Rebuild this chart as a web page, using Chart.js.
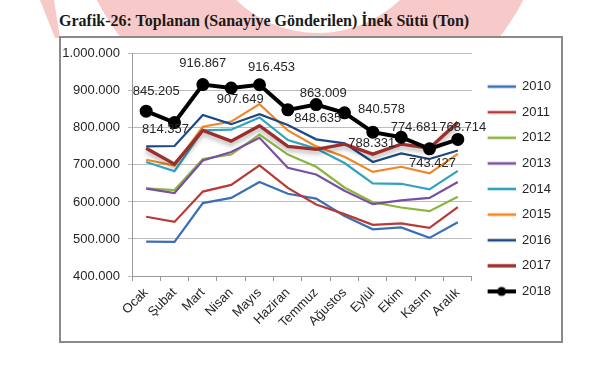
<!DOCTYPE html>
<html>
<head>
<meta charset="utf-8">
<script src="https://cdn.jsdelivr.net/npm/chart.js@4.4.1/dist/chart.umd.min.js"></script>
<style>
  body { margin: 0; width: 600px; height: 374px; background: #fff; position: relative; overflow: hidden; }
  .wm-ring { position: absolute; left: 70px; top: -350px; width: 480px; height: 480px; border-radius: 50%; background: #f7c9c9; }
  .wm-hole { position: absolute; left: 200px; top: -203px; width: 236px; height: 236px; border-radius: 50%; background: #fff; }
  .wm-left { position: absolute; left: 38px; top: 0; width: 24px; height: 38px; background: #f7c9c9;
             clip-path: polygon(2px 0, 16px 0, 22px 38px, 17px 38px); }
  #title { position: absolute; left: 59px; top: 12px; line-height: 18px; white-space: nowrap;
           font: bold 16px "Liberation Serif", "Times New Roman", serif; color: #1a1a1a; }
  #box { position: absolute; left: 59px; top: 36px; width: 504px; height: 307px; box-sizing: border-box;
         border: 2px solid #8a8a8a; background: #fff; }
  #box canvas { display: block; }
</style>
</head>
<body>
<div class="wm-ring"></div>
<div class="wm-hole"></div>
<div class="wm-left"></div>
<div id="title">Grafik-26: Toplanan (Sanayiye Gönderilen) İnek Sütü (Ton)</div>
<div id="box"><canvas id="chart" width="500" height="303"></canvas></div>

<script>
// ---------- data (ton) ----------
const months = ["Ocak", "Şubat", "Mart", "Nisan", "Mayıs", "Haziran", "Temmuz", "Ağustos", "Eylül", "Ekim", "Kasım", "Aralık"];
const years = ["2010", "2011", "2012", "2013", "2014", "2015", "2016", "2017", "2018"];

const s2010 = [493000, 492000, 597000, 611000, 654000, 622000, 609000, 562000, 526000, 531000, 503000, 545000];
const s2011 = [560000, 546000, 628000, 646000, 699000, 638000, 593000, 567000, 538000, 542000, 530000, 586000];
const s2012 = [637000, 632000, 716000, 728000, 782000, 728000, 695000, 639000, 599000, 585000, 575000, 614000];
const s2013 = [636000, 624000, 712000, 735000, 773000, 692000, 674000, 630000, 594000, 604000, 611000, 654000];
const s2014 = [708000, 683000, 793000, 795000, 828000, 767000, 744000, 705000, 650000, 649000, 634000, 684000];
const s2015 = [714000, 698000, 803000, 817000, 864000, 793000, 750000, 722000, 681000, 695000, 677000, 730000];
const s2016 = [750000, 751000, 835000, 810000, 837000, 808000, 769000, 758000, 708000, 731000, 716000, 739000];
const s2017 = [745000, 702000, 793000, 764000, 806000, 750000, 742000, 756000, 729000, 756000, 745000, 815000];
const s2018 = [845205, 814357, 916867, 907649, 916453, 848635, 863009, 840578, 788331, 774681, 743427, 768714];

const yTicks = [400000, 500000, 600000, 700000, 800000, 900000, 1000000];

// ---------- styles ----------
const series = [s2010, s2011, s2012, s2013, s2014, s2015, s2016, s2017, s2018];
const colors = ["#3a6fb8", "#b83a35", "#8db43f", "#7a4fa3", "#2fa3bf", "#f08524", "#1d4783", "#9c2f2c", "#000000"];
const widths = [2.2, 2.2, 2.2, 2.2, 2.2, 2.2, 2.2, 3.4, 4];
// where each 2018 value label sits relative to its point
const labelOffsets = [[10, -20], [-9, 7], [0, -21], [9, 11], [12, -17], [30, 9], [7, -11], [37, -3], [-1, 11], [13, -10], [3, 15], [5, -12]];

const textColor = "#262626";
const font = "Liberation Sans";

const fmt = v => Math.round(v).toString().replace(/\B(?=(\d{3})+(?!\d))/g, ".");

function legendIcon(color, w, dot) {
  const c = document.createElement("canvas");
  c.width = 31; c.height = 12;
  const g = c.getContext("2d");
  g.strokeStyle = color;
  g.lineWidth = Math.max(w, 2.6);
  g.beginPath(); g.moveTo(3, 6); g.lineTo(31, 6); g.stroke();
  if (dot) {
    g.fillStyle = color;
    g.beginPath(); g.arc(17, 6, 4.5, 0, Math.PI * 2); g.fill();
  }
  return c;
}
const icons = years.map((y, i) => legendIcon(colors[i], widths[i], i === 8));

const datasets = years.map((y, i) => ({
  label: y,
  data: series[i],
  borderColor: colors[i],
  backgroundColor: colors[i],
  borderWidth: widths[i],
  tension: 0,
  pointRadius: i === 8 ? 4.5 : 0,
  pointHoverRadius: 0,
  order: 8 - i
}));

// gray shadow under the 2017 line
const lineShadow = {
  id: "lineShadow",
  beforeDatasetDraw(chart, args) {
    if (args.index !== 7) return;
    const c = chart.ctx;
    c.save();
    c.shadowColor = "rgba(0,0,0,0.3)";
    c.shadowBlur = 4;
    c.shadowOffsetY = 3;
  },
  afterDatasetDraw(chart, args) {
    if (args.index === 7) chart.ctx.restore();
  }
};

// value labels of 2018
const valueLabels = {
  id: "valueLabels",
  afterDatasetsDraw(chart) {
    const meta = chart.getDatasetMeta(8);
    const c = chart.ctx;
    c.save();
    c.font = "13px '" + font + "'";
    c.fillStyle = textColor;
    c.textAlign = "center";
    c.textBaseline = "middle";
    meta.data.forEach((pt, i) => {
      c.fillText(fmt(s2018[i]), pt.x + labelOffsets[i][0], pt.y + labelOffsets[i][1]);
    });
    c.restore();
  }
};

new Chart(document.getElementById("chart"), {
  type: "line",
  data: { labels: months, datasets },
  plugins: [lineShadow, valueLabels],
  options: {
    responsive: false,
    animation: false,
    devicePixelRatio: 1,
    layout: { padding: { top: 14, bottom: 15, left: 0, right: 0 } },
    plugins: {
      title: { display: false },
      tooltip: { enabled: false },
      legend: {
        position: "right",
        align: "center",
        labels: {
          usePointStyle: true,
          pointStyleWidth: 31,
          padding: 12.6,
          color: textColor,
          font: { family: font, size: 13 },
          generateLabels: chart => years.map((y, i) => ({
            text: y,
            pointStyle: icons[i],
            fillStyle: colors[i],
            strokeStyle: colors[i],
            lineWidth: 0,
            hidden: false,
            datasetIndex: i,
            fontColor: textColor
          }))
        }
      }
    },
    scales: {
      x: {
        offset: true,
        grid: { offset: true, drawOnChartArea: false, tickLength: 5, color: "#9a9a9a" },
        border: { color: "#9a9a9a" },
        ticks: { maxRotation: 45, minRotation: 45, autoSkip: false, padding: 4, color: textColor, font: { family: font, size: 13 } },
        afterFit: s => { s.height = 50; }
      },
      y: {
        min: yTicks[0],
        max: yTicks[yTicks.length - 1],
        afterBuildTicks: s => { s.ticks = yTicks.map(v => ({ value: v })); },
        grid: { color: "#bdbdbd", tickLength: 4 },
        border: { color: "#9a9a9a" },
        ticks: { padding: 8, color: textColor, font: { family: font, size: 13 }, callback: v => fmt(v) },
        afterFit: s => { s.width = 71; }
      }
    }
  }
});
</script>
</body>
</html>
